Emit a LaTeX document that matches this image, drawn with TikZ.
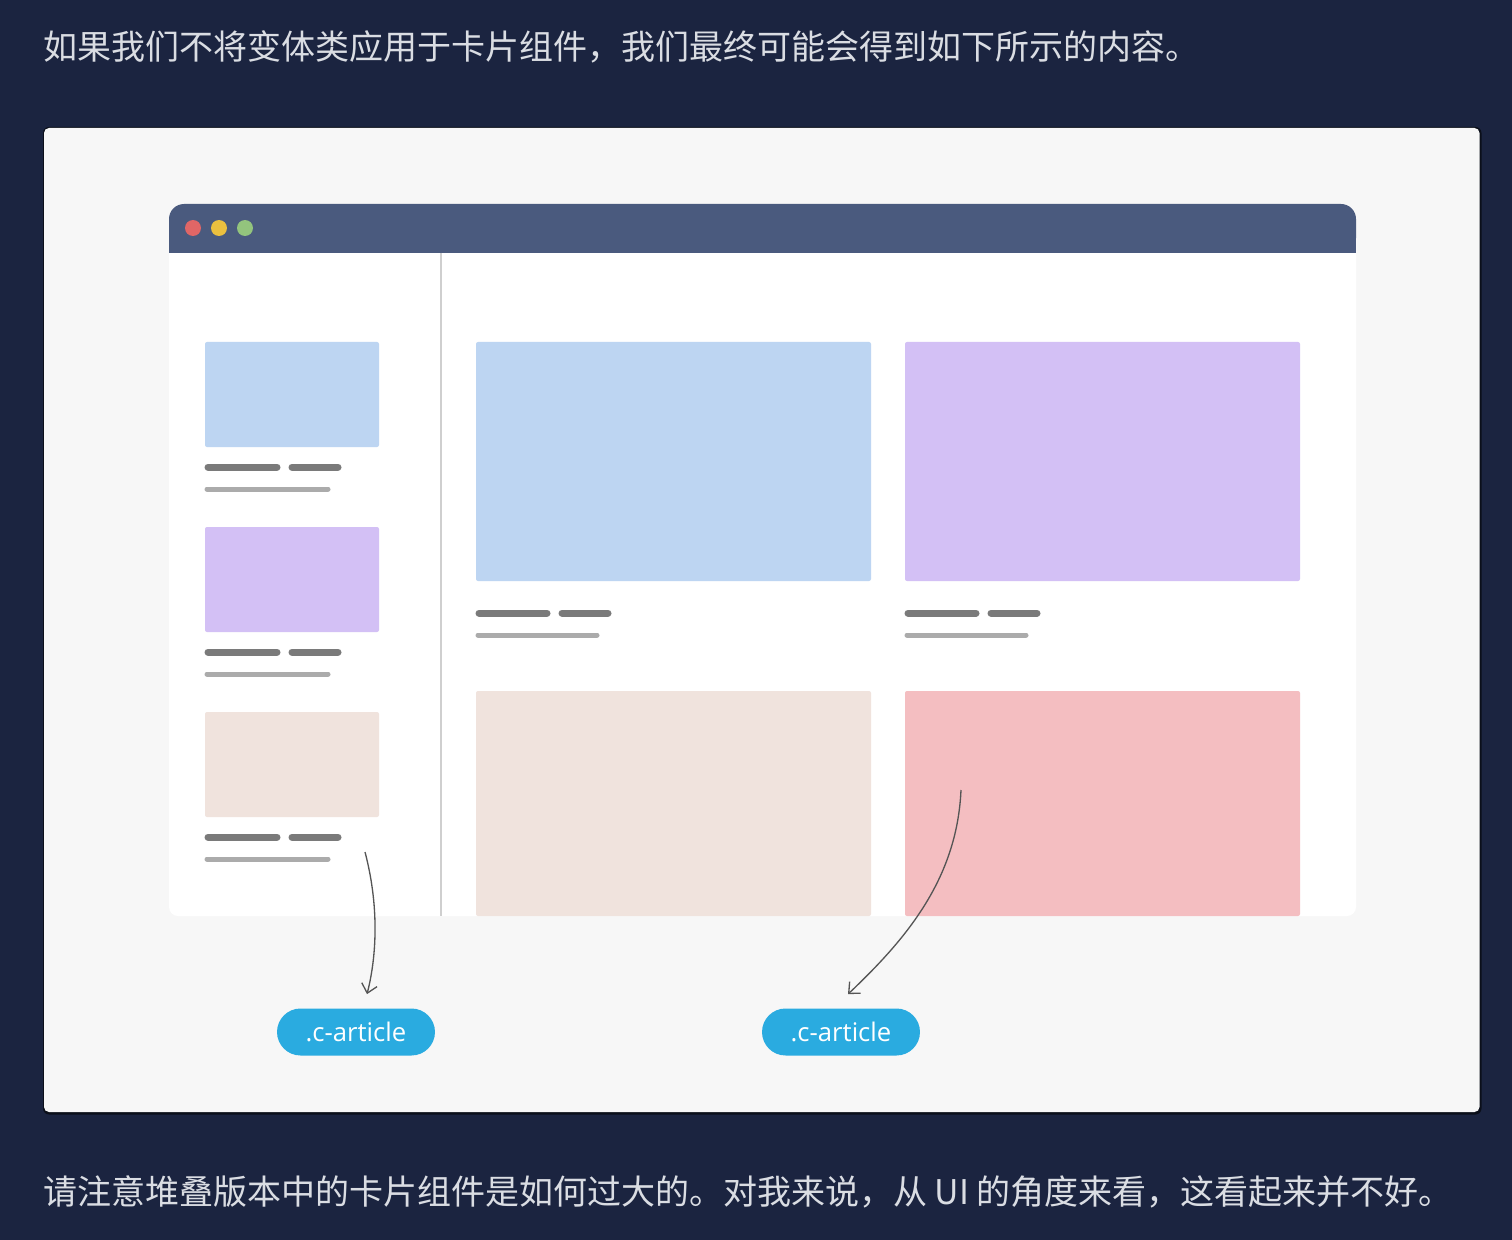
\documentclass[tikz,border=0pt]{standalone}
\usepackage{fontspec}
\newfontfamily\cjk{Noto Sans CJK SC}
\newfontfamily\pillfont{Open Sans}
\usetikzlibrary{arrows.meta,calc,shapes.misc}
\definecolor{bgnavy}{HTML}{1B2440}
\definecolor{panelbg}{HTML}{F7F7F7}
\definecolor{panelshadow}{HTML}{0B0F1A}
\definecolor{titlebar}{HTML}{4A5A7E}
\definecolor{dotred}{HTML}{E06666}
\definecolor{dotyellow}{HTML}{EBC03F}
\definecolor{dotgreen}{HTML}{93C47D}
\definecolor{divider}{HTML}{CFCFCF}
\definecolor{cardblue}{HTML}{BDD5F2}
\definecolor{cardpurple}{HTML}{D3C0F5}
\definecolor{cardbeige}{HTML}{F0E3DD}
\definecolor{cardpink}{HTML}{F4BEC1}
\definecolor{linedark}{HTML}{7A7A7A}
\definecolor{linelight}{HTML}{ABABAB}
\definecolor{pillblue}{HTML}{2AABE0}
\definecolor{captiontext}{HTML}{DADDE3}
\definecolor{arrowgray}{HTML}{555555}
\tikzset{
  caption/.style={anchor=west, inner sep=0pt, text=captiontext, font=\cjk\fontsize{19.35pt}{23pt}\selectfont},
  card/.style={rounded corners=0.04cm},
  titleline/.style={draw=linedark, line width=0.14cm, line cap=round},
  subline/.style={draw=linelight, line width=0.10cm, line cap=round},
  pill/.style={rounded rectangle, fill=pillblue, text=white, minimum width=3.16cm, minimum height=0.94cm, inner sep=0pt, font=\pillfont\fontsize{14.6pt}{17pt}\selectfont},
  pointer/.style={draw=arrowgray, line width=0.75pt, -{Straight Barb[length=5pt,width=9pt]}},
}
\begin{document}
\begin{tikzpicture}[x=0.02cm,y=-0.02cm]
\fill[bgnavy] (0,0) rectangle (1512,1240);
\useasboundingbox (0,0) rectangle (1512,1240);
% captions
\node[caption] (top) at (43,47) {如果我们不将变体类应用于卡片组件，我们最终可能会得到如下所示的内容。};
\node[caption] (bottom) at (43,1192) {请注意堆叠版本中的卡片组件是如何过大的。对我来说，从 UI 的角度来看，这看起来并不好。};
% panel
\fill[panelshadow, rounded corners=0.12cm] (43,127) rectangle (1481.5,1114.5);
\fill[panelbg, rounded corners=0.1cm] (44,128) rectangle (1479.5,1112);
% browser window
\fill[white, rounded corners=0.18cm] (169,230) rectangle (1356,916);
\fill[titlebar, rounded corners=0.3cm] (169,204) rectangle (1356,253);
\fill[titlebar] (169,230) rectangle (1356,253);
\fill[dotred] (193,228) circle[radius=0.16cm];
\fill[dotyellow] (219,228) circle[radius=0.16cm];
\fill[dotgreen] (245,228) circle[radius=0.16cm];
\draw[divider, line width=1pt] (441,253) -- (441,916);
% sidebar cards
\foreach \y/\c in {342/cardblue, 527/cardpurple, 712/cardbeige}{
  \fill[\c, card] (205,\y) rectangle (379,\y+105);
  \draw[titleline] (208,\y+125) -- (277,\y+125);
  \draw[titleline] (292,\y+125) -- (338,\y+125);
  \draw[subline] (207,\y+147) -- (328,\y+147);
}
% main cards
\fill[cardblue, card] (476,342) rectangle (871,581);
\fill[cardpurple, card] (905,342) rectangle (1300,581);
\foreach \x in {476,905}{
  \draw[titleline] (\x+3,613) -- (\x+71,613);
  \draw[titleline] (\x+86,613) -- (\x+132,613);
  \draw[subline] (\x+2,635) -- (\x+121,635);
}
\fill[cardbeige, card] (476,691) -- (871,691) -- (871,916) -- (476,916) -- cycle;
\fill[cardpink, card] (905,691) -- (1300,691) -- (1300,916) -- (905,916) -- cycle;
% pills
\node[pill] (p1) at (356,1032) {.c-article};
\node[pill] (p2) at (841,1032) {.c-article};
% pointers
\coordinate (s1) at (365,852);
\coordinate (s2) at (961,790);
\draw[pointer] (s1) .. controls (379,905) and (377,955) .. ($(p1.north)+(11,-14)$);
\draw[pointer] (s2) .. controls (957,880) and (905,940) .. ($(p2.north)+(7,-14)$);
\end{tikzpicture}
\end{document}
